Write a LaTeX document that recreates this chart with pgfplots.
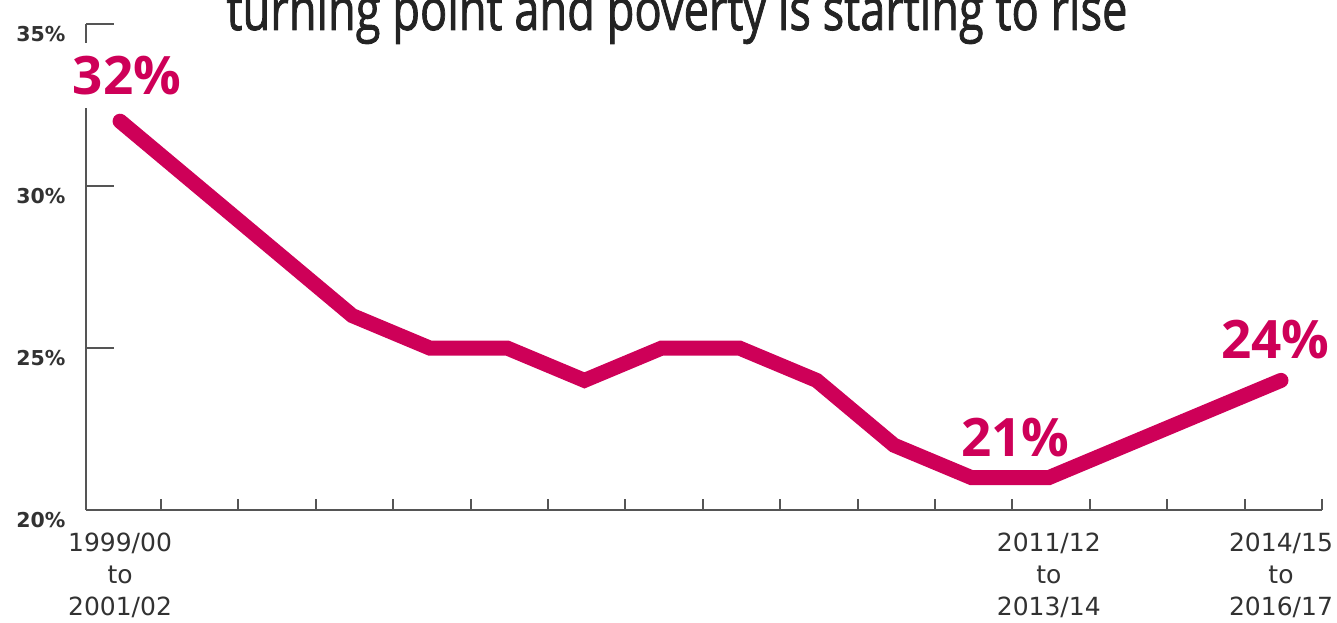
\documentclass[border=0pt]{standalone}
\usepackage{fontspec}
\setmainfont{DejaVu Sans}
\newfontfamily\osans{Open Sans}
\newfontfamily\osanstitle[FakeBold=1.6]{Open Sans}
\usepackage{pgfplots}
\pgfplotsset{compat=1.18}
\definecolor{jrf}{RGB}{206,0,88}
\definecolor{axgray}{RGB}{85,85,85}
\definecolor{txtgray}{RGB}{50,50,50}
\definecolor{titlegray}{RGB}{35,35,35}
\begin{document}
\begin{tikzpicture}[x=1pt,y=1pt]
\path[use as bounding box] (0,0) rectangle (1337,622);
\clip (0,0) rectangle (1337,622);
\node[anchor=base, text=titlegray, inner sep=0pt] at (677,592) {\scalebox{0.78}[1]{\osanstitle\fontsize{58}{60}\selectfont turning point and poverty is starting to rise}};
\begin{axis}[
  at={(86pt,112pt)}, anchor=south west,
  scale only axis, width=1236pt, height=486pt,
  xmin=-0.44, xmax=15.53, ymin=20, ymax=35,
  axis x line*=bottom, axis y line*=left,
  axis line style={-, draw=axgray, line width=2.5pt},
  xtick={0,12,15},
  xticklabels={{1999/00\\to\\2001/02},{2011/12\\to\\2013/14},{2014/15\\to\\2016/17}},
  x tick style={draw=none},
  minor xtick={0.53,1.53,2.53,3.53,4.53,5.53,6.53,7.53,8.53,9.53,10.53,11.53,12.53,13.53,14.53,15.53},
  minor x tick style={draw=axgray, line width=2pt},
  minor tick length=11pt,
  ytick={20,25,30,35},
  yticklabels={20\%,25\%,30\%,35\%},
  y tick style={draw=axgray, line width=2.5pt},
  major tick length=28pt,
  tick align=inside,
  xticklabel style={align=center, font=\fontsize{25}{32}\selectfont, text=txtgray, yshift=-19pt},
  yticklabel style={font=\fontsize{20.5}{24}\selectfont\bfseries, text=txtgray, yshift=-10pt, xshift=-17pt},
  clip=false,
]
\node[text=jrf, fill=white, inner xsep=4pt, inner ysep=13pt, font=\osans\bfseries\fontsize{53}{53}\selectfont] at (axis cs:0.09,33.4) {32\%};
\node[text=jrf, inner sep=0pt, font=\osans\bfseries\fontsize{53}{53}\selectfont] at (axis cs:11.57,22.25) {21\%};
\node[text=jrf, inner sep=0pt, font=\osans\bfseries\fontsize{53}{53}\selectfont] at (axis cs:14.93,25.25) {24\%};
\addplot[jrf, line width=15pt, line cap=round] coordinates {
  (0,32) (1,30) (2,28) (3,26) (4,25) (5,25) (6,24) (7,25)
  (8,25) (9,24) (10,22) (11,21) (12,21) (13,22) (14,23) (15,24)
};
\end{axis}
\end{tikzpicture}
\end{document}
